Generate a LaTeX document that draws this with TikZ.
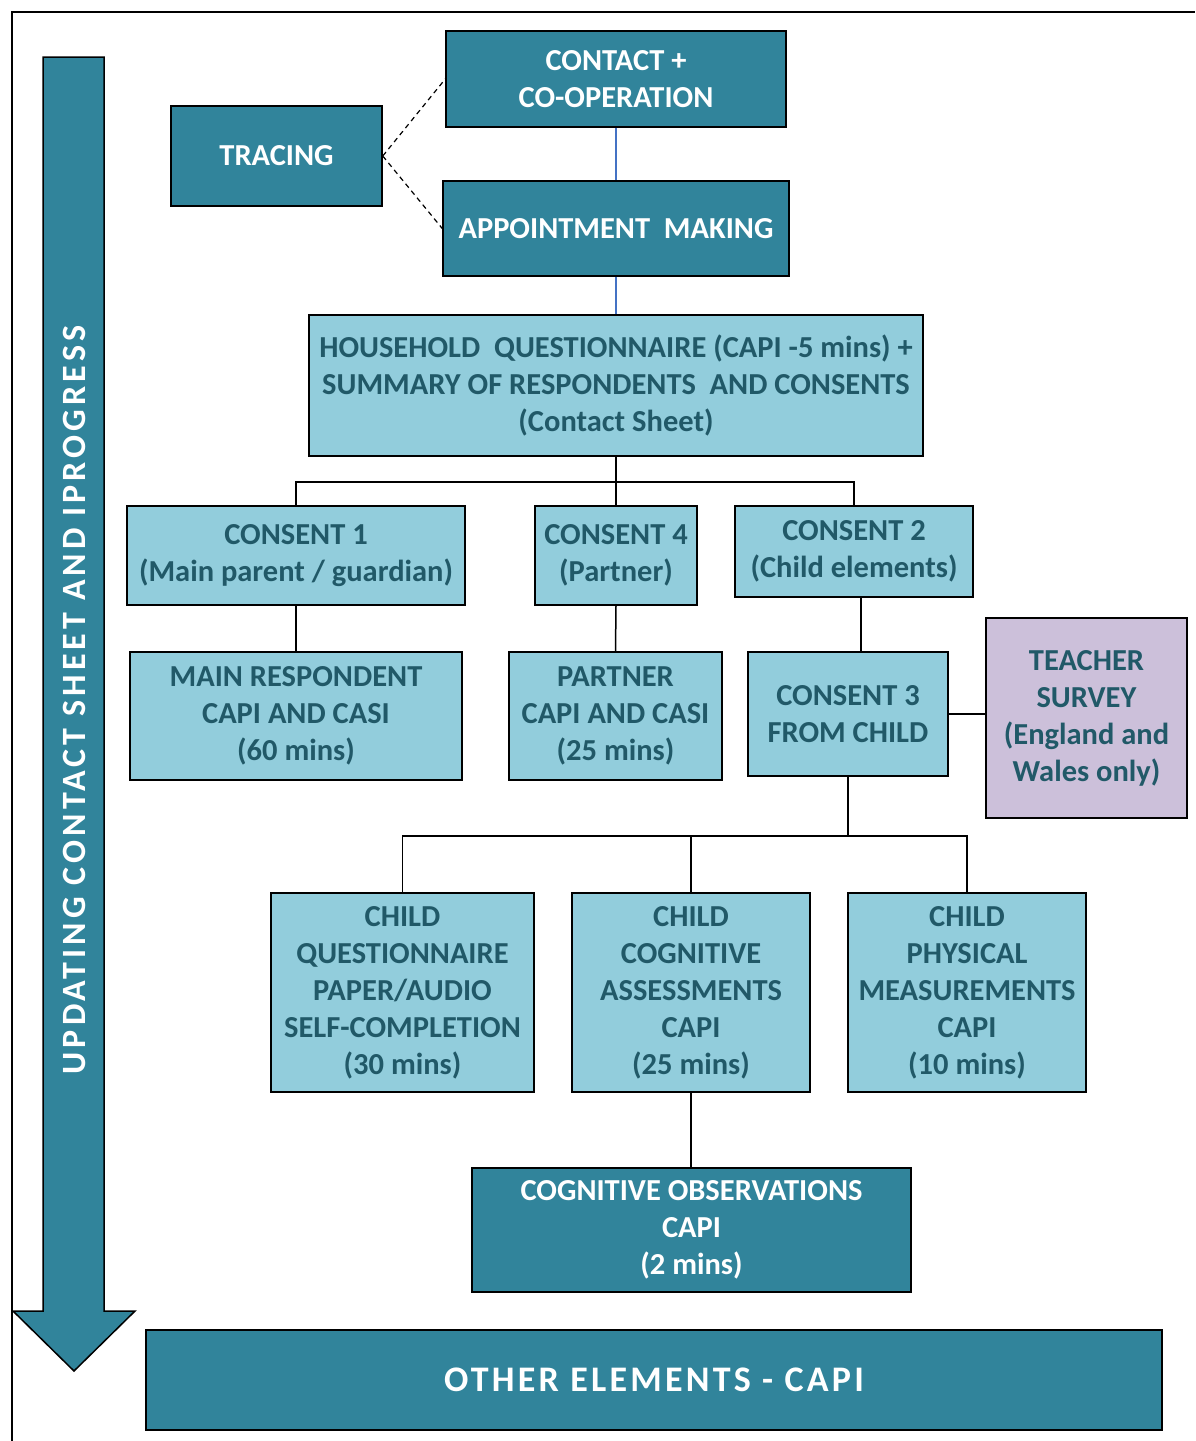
\documentclass[tikz,border=0pt]{standalone}
\usepackage{fontspec}
\setmainfont{Carlito}
\newfontfamily\spacedA[LetterSpace=12]{Carlito}
\newfontfamily\spacedB[LetterSpace=9]{Carlito}
\definecolor{teal}{HTML}{31849B}
\definecolor{lblue}{HTML}{92CDDC}
\definecolor{dtext}{HTML}{215968}
\definecolor{lav}{HTML}{CCC0DA}
\definecolor{lineblue}{HTML}{4472C4}
\begin{document}
\begin{tikzpicture}[x=1pt,y=-1pt,
  box/.style={draw=black,line width=1.5pt,inner sep=0pt,align=center,
    font=\fontsize{30.5}{37}\selectfont\bfseries},
  darkbox/.style={box,fill=teal,text=white},
  lightbox/.style={box,fill=lblue,text=dtext},
  lavbox/.style={box,fill=lav,text=dtext},
  conn/.style={draw=black,line width=1.5pt},
  blueconn/.style={draw=lineblue,line width=1.2pt},
  dashconn/.style={draw=black,line width=1.2pt,dash pattern=on 5pt off 4pt}]
\useasboundingbox (0,0) rectangle (1195,1441);
% frame
\draw[line width=2pt] (12,1441) -- (12,12) -- (1195,12);
% arrow
\draw[fill=teal,line width=1.5pt] (43,57) -- (104,57) -- (104,1311) -- (135,1311) -- (74,1371) -- (13,1311) -- (43,1311) -- cycle;
\node[rotate=90,text=white,font=\fontsize{34}{38}\spacedA\bfseries] (side) at (74,700) {UPDATING CONTACT SHEET AND IPROGRESS};
% top
\node[darkbox,minimum width=340,minimum height=96] (contact) at (616,79) {CONTACT +\\CO-OPERATION};
\node[darkbox,minimum width=211,minimum height=100] (tracing) at (276.5,156) {TRACING};
\node[darkbox,minimum width=346,minimum height=95] (appt) at (616,228.5) {APPOINTMENT\ \ MAKING};
\node[lightbox,minimum width=614,minimum height=141] (hh) at (616,385.5) {HOUSEHOLD\ \ QUESTIONNAIRE (CAPI -5 mins) +\\SUMMARY OF RESPONDENTS\ \ AND CONSENTS\\(Contact Sheet)};
% consents
\node[lightbox,minimum width=338,minimum height=99] (c1) at (296,555.5) {CONSENT 1\\(Main parent / guardian)};
\node[lightbox,minimum width=162,minimum height=99] (c4) at (616,555.5) {CONSENT 4\\(Partner)};
\node[lightbox,minimum width=238,minimum height=91] (c2) at (854,551.5) {CONSENT 2\\(Child elements)};
\node[lightbox,minimum width=332,minimum height=128] (mr) at (296,716) {MAIN RESPONDENT\\CAPI AND CASI\\(60 mins)};
\node[lightbox,minimum width=213,minimum height=128] (pt) at (615.5,716) {PARTNER\\CAPI AND CASI\\(25 mins)};
\node[lightbox,minimum width=200,minimum height=124] (c3) at (848,714) {CONSENT 3\\FROM CHILD};
\node[lavbox,minimum width=201,minimum height=200] (ts) at (1086.5,718) {TEACHER\\SURVEY\\(England and\\Wales only)};
% children
\node[lightbox,minimum width=263,minimum height=199] (cq) at (402.5,992.5) {CHILD\\QUESTIONNAIRE\\PAPER/AUDIO\\SELF-COMPLETION\\(30 mins)};
\node[lightbox,minimum width=238,minimum height=199] (cc) at (691,992.5) {CHILD\\COGNITIVE\\ASSESSMENTS\\CAPI\\(25 mins)};
\node[lightbox,minimum width=238,minimum height=199] (cp) at (967,992.5) {CHILD\\PHYSICAL\\MEASUREMENTS\\CAPI\\(10 mins)};
\node[darkbox,minimum width=439,minimum height=124] (co) at (691.5,1230) {COGNITIVE OBSERVATIONS\\CAPI\\(2 mins)};
\node[darkbox,minimum width=1016,minimum height=100,font=\fontsize{36}{40}\spacedB\bfseries] (oe) at (654,1380) {OTHER ELEMENTS - CAPI};
% connectors
\draw[dashconn] (tracing.east) -- (contact.west);
\draw[dashconn] (tracing.east) -- (appt.west);
\draw[blueconn] (contact.south) -- (appt.north);
\draw[blueconn] (appt.south) -- (hh.north);
\coordinate (j1) at ([yshift=-25pt]hh.south);
\draw[conn] (hh.south) -- (j1);
\draw[conn] (c1.north) |- (j1);
\draw[conn] (c2.north) |- (j1);
\draw[conn] (j1) -- (c4.north);
\draw[conn] (c1.south) -- (mr.north);
\draw[conn] (c4.south) -- (pt.north);
\draw[conn] ([xshift=7pt]c2.south) -- ([xshift=13pt]c3.north);
\draw[conn] (c3.east) -- (c3.east -| ts.west);
\coordinate (j2) at ([yshift=-59pt]c3.south);
\draw[conn] (c3.south) -- (j2);
\draw[conn] (cq.north) |- (j2);
\draw[conn] (cp.north) |- (j2);
\draw[conn] (cc.north) -- (cc.north |- j2);
\draw[conn] (cc.south) -- (co.north -| cc.south);
\end{tikzpicture}
\end{document}
